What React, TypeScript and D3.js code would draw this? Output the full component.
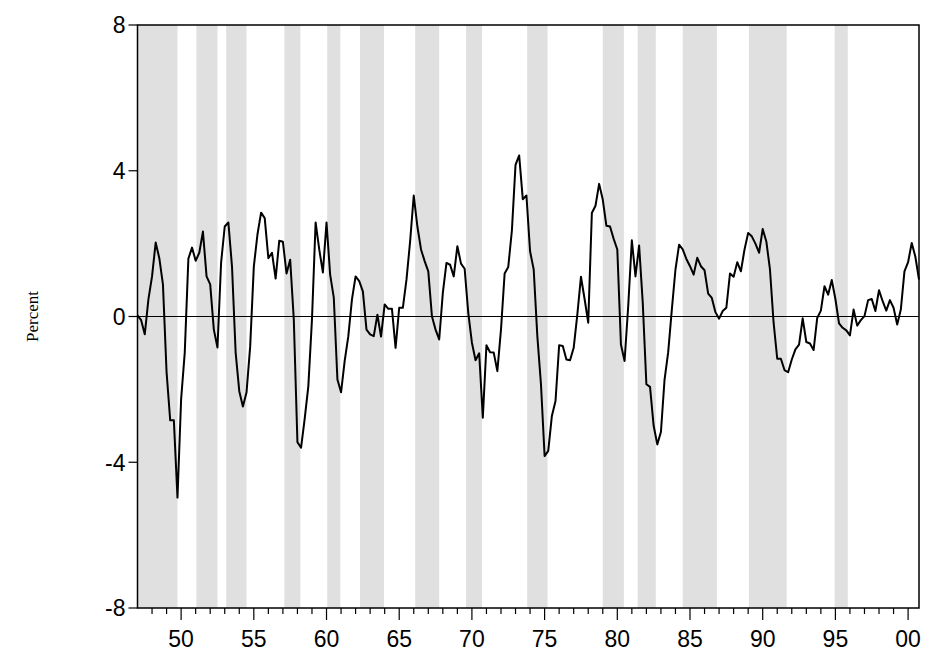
import * as d3 from 'd3';

const W = 931;
const H = 662;
const mLeft = 137.5;
const mRight = 919;
const mTop = 25;
const mBottom = 608;

// quarterly values from 1947Q1
const values: number[] = [
  0.03, -0.1, -0.49, 0.47, 1.1, 2.03, 1.6, 0.88, -1.53, -2.85, -2.85, -4.97, -2.27, -0.99, 1.59, 1.89,
  1.53, 1.75, 2.33, 1.1, 0.88, -0.36, -0.85, 1.48, 2.47, 2.58, 1.37, -0.99, -2.05, -2.47, -2.08, -0.82,
  1.37, 2.25, 2.85, 2.7, 1.6, 1.75, 1.04, 2.08, 2.05, 1.18, 1.56, -0.08,
  -3.45, -3.6, -2.8,
  -1.91, -0.08, 2.58, 1.84, 1.21, 2.58, 1.15, 0.52, -1.73, -2.08, -1.22, -0.54, 0.47, 1.1, 0.97, 0.69,
  -0.36, -0.49, -0.54, 0.05, -0.55, 0.33, 0.21, 0.21, -0.86, 0.24, 0.24, 1.01, 2.06, 3.32, 2.47, 1.84,
  1.52, 1.24, 0.01, -0.36, -0.63, 0.65, 1.47, 1.42, 1.1, 1.93,
  1.45, 1.31, 0.1, -0.72, -1.2, -1.01, -2.78, -0.79, -0.98, -0.99, -1.5, -0.36, 1.18, 1.36, 2.36, 4.16,
  4.42, 3.22, 3.32, 1.79, 1.29, -0.54, -1.86, -3.83, -3.69, -2.73, -2.32, -0.79, -0.81, -1.18, -1.2, -0.86,
  0.05, 1.09, 0.48, -0.17, 2.84, 3.04, 3.64, 3.21, 2.49, 2.47, 2.13, 1.84,
  -0.77, -1.22, 0.28, 2.09, 1.1, 1.95, 0.38, -1.86, -1.93, -3.0, -3.51, -3.17, -1.73, -0.98, 0.19, 1.29,
  1.97, 1.84, 1.58, 1.38, 1.15, 1.61, 1.38, 1.27, 0.63, 0.51, 0.12, -0.06, 0.15, 0.24, 1.18, 1.09,
  1.49, 1.24, 1.84, 2.29, 2.2, 2.0, 1.75, 2.4, 2.06, 1.29, -0.17, -1.16,
  -1.16, -1.47, -1.53, -1.18, -0.9, -0.77, -0.05, -0.7, -0.74, -0.92, -0.04, 0.16, 0.83, 0.6, 1.0, 0.48,
  -0.19, -0.31, -0.38, -0.52, 0.19, -0.25, -0.1, 0.01, 0.45, 0.48, 0.15, 0.72, 0.42, 0.16, 0.45, 0.24,
  -0.22, 0.19, 1.24, 1.49, 2.02, 1.64, 1.01,
];

// shaded periods [start, end] in years
const shades: [number, number][] = [
  [1947.0, 1949.75], [1951.05, 1952.5], [1953.1, 1954.5], [1957.1, 1958.2], [1960.05, 1960.95],
  [1962.3, 1963.95], [1966.1, 1967.75], [1969.6, 1970.7], [1973.8, 1975.2], [1979.0, 1980.45],
  [1981.4, 1982.65], [1984.5, 1986.85], [1989.05, 1991.65], [1994.95, 1995.85],
];

const yTicks = [8, 4, 0, -4, -8];
const xMajor = [1950, 1955, 1960, 1965, 1970, 1975, 1980, 1985, 1990, 1995, 2000];
const xLabels = ['50', '55', '60', '65', '70', '75', '80', '85', '90', '95', '00'];

export default function App() {
  const x = d3.scaleLinear().domain([1947, 1947 + values.length / 4 - 0.25]).range([mLeft, mRight]);
  const y = d3.scaleLinear().domain([-8, 8]).range([mBottom, mTop]);
  const line = d3
    .line<number>()
    .x((_, i) => x(1947 + i / 4))
    .y((d) => y(d));
  const minor = d3.range(1948, 2001);
  const font = 'Arial, "Liberation Sans", sans-serif';

  return (
    <svg width={W} height={H} style={{ position: 'absolute', left: 0, top: 0 }}>
      {shades.map(([a, b], i) => (
        <rect key={i} x={x(a)} y={mTop} width={x(b) - x(a)} height={mBottom - mTop} fill="#e0e0e0" />
      ))}
      <line x1={mLeft} x2={mRight} y1={y(0)} y2={y(0)} stroke="#000" strokeWidth={1} />
      <path d={line(values) ?? ''} fill="none" stroke="#000" strokeWidth={2} strokeLinejoin="round" />
      <rect x={mLeft} y={mTop} width={mRight - mLeft} height={mBottom - mTop} fill="none" stroke="#000" strokeWidth={1.5} />
      {yTicks.map((t) => (
        <g key={t}>
          <line x1={mLeft - 9} x2={mLeft} y1={y(t)} y2={y(t)} stroke="#000" strokeWidth={1.2} />
          <text x={mLeft - 12} y={y(t)} dy="0.36em" textAnchor="end" fontFamily={font} fontSize={23}>
            {t}
          </text>
        </g>
      ))}
      {minor.map((t) => (
        <line key={t} x1={x(t)} x2={x(t)} y1={mBottom} y2={mBottom + (t % 5 === 0 ? 12 : 6)} stroke="#000" strokeWidth={1.2} />
      ))}
      {xMajor.map((t, i) => (
        <text key={t} x={x(t)} y={mBottom + 39} textAnchor="middle" fontFamily={font} fontSize={23}>
          {xLabels[i]}
        </text>
      ))}
      <text
        transform={`translate(38,${y(0)}) rotate(-90)`}
        textAnchor="middle"
        fontFamily='"Liberation Serif", "Times New Roman", serif'
        fontSize={17}
      >
        Percent
      </text>
    </svg>
  );
}
